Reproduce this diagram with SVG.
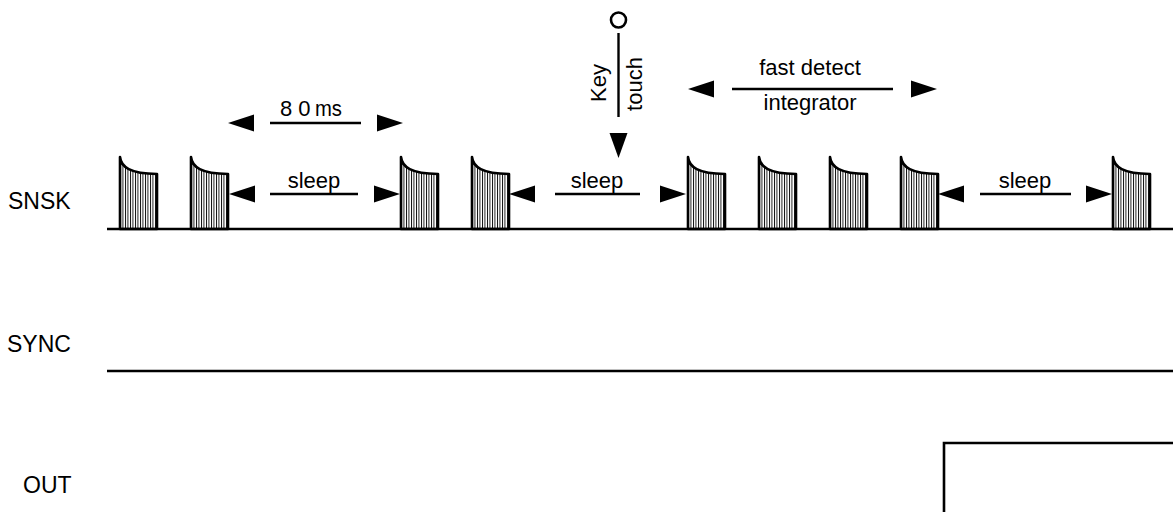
<svg xmlns="http://www.w3.org/2000/svg" width="1173" height="512" viewBox="0 0 1173 512">
<style>
  text { font-family: "Liberation Sans", Arial, sans-serif; font-size: 22px; fill: #000; }
  .lbl { font-size: 23px; }
  .trace { fill: none; stroke: #000; stroke-width: 2.6; }
  .dim { fill: none; stroke: #000; stroke-width: 2.4; }
  .pulse { fill: url(#hatch); stroke: #000; stroke-width: 2.6; stroke-linejoin: round; }
  .tri { fill: #000; }
</style>
<defs>
  <pattern id="hatch" patternUnits="userSpaceOnUse" width="2.5" height="10">
    <rect x="0" y="0" width="0.9" height="10" fill="#000"/>
  </pattern>
  <polygon id="triL" class="tri" points="0,0 26,-8.5 26,8.5"/>
  <polygon id="triR" class="tri" points="0,0 -26,-8.5 -26,8.5"/>
  <path id="pulse" class="pulse" d="M0,72 V0 C1,10 10,16.5 37,17 V72 Z"/>
</defs>
<rect width="1173" height="512" fill="#fff"/>

<g id="labels">
  <text class="lbl" x="8" y="209">SNSK</text>
  <text class="lbl" x="7" y="352">SYNC</text>
  <text class="lbl" x="23" y="493">OUT</text>
</g>

<g id="traces">
  <line class="trace" x1="107" y1="229" x2="1173" y2="229"/>
  <line class="trace" x1="107" y1="371" x2="1173" y2="371"/>
  <polyline class="trace" points="944,512 944,443 1173,443"/>
</g>

<g id="pulses">
  <use href="#pulse" x="120" y="157"/>
  <use href="#pulse" x="191" y="157"/>
  <use href="#pulse" x="401" y="157"/>
  <use href="#pulse" x="472" y="157"/>
  <use href="#pulse" x="688" y="157"/>
  <use href="#pulse" x="759" y="157"/>
  <use href="#pulse" x="830" y="157"/>
  <use href="#pulse" x="901" y="157"/>
  <use href="#pulse" x="1113" y="157"/>
</g>

<g id="connectors">
  <!-- 80 ms -->
  <use href="#triL" x="228" y="123"/>
  <line class="dim" x1="270" y1="123" x2="361" y2="123"/>
  <use href="#triR" x="403" y="123"/>
  <!-- sleep 1 -->
  <use href="#triL" x="229" y="194"/>
  <line class="dim" x1="270" y1="194" x2="358" y2="194"/>
  <use href="#triR" x="400" y="194"/>
  <!-- sleep 2 -->
  <use href="#triL" x="509" y="194"/>
  <line class="dim" x1="555" y1="194" x2="640" y2="194"/>
  <use href="#triR" x="686" y="194"/>
  <!-- sleep 3 -->
  <use href="#triL" x="938" y="194"/>
  <line class="dim" x1="980" y1="194" x2="1071" y2="194"/>
  <use href="#triR" x="1112" y="194"/>
  <!-- fast detect / integrator -->
  <use href="#triL" x="688" y="89"/>
  <line class="dim" x1="732" y1="89" x2="893" y2="89"/>
  <use href="#triR" x="937" y="89"/>
  <!-- key touch -->
  <circle cx="618.5" cy="20" r="7.5" fill="none" stroke="#000" stroke-width="2.6"/>
  <line class="dim" x1="618.5" y1="33" x2="618.5" y2="117"/>
  <polygon class="tri" points="618.5,158 609.5,133 627.5,133"/>
</g>

<g id="annotations">
  <text x="280" y="116">8 0 <tspan x="315" textLength="27" lengthAdjust="spacingAndGlyphs">ms</tspan></text>
  <text x="314" y="188" text-anchor="middle">sleep</text>
  <text x="597" y="188" text-anchor="middle">sleep</text>
  <text x="1025" y="188" text-anchor="middle">sleep</text>
  <text x="810" y="75" text-anchor="middle">fast detect</text>
  <text x="810" y="110" text-anchor="middle">integrator</text>
  <text transform="translate(606,83) rotate(-90)" text-anchor="middle">Key</text>
  <text transform="translate(642,84) rotate(-90)" text-anchor="middle">touch</text>
</g>
</svg>
